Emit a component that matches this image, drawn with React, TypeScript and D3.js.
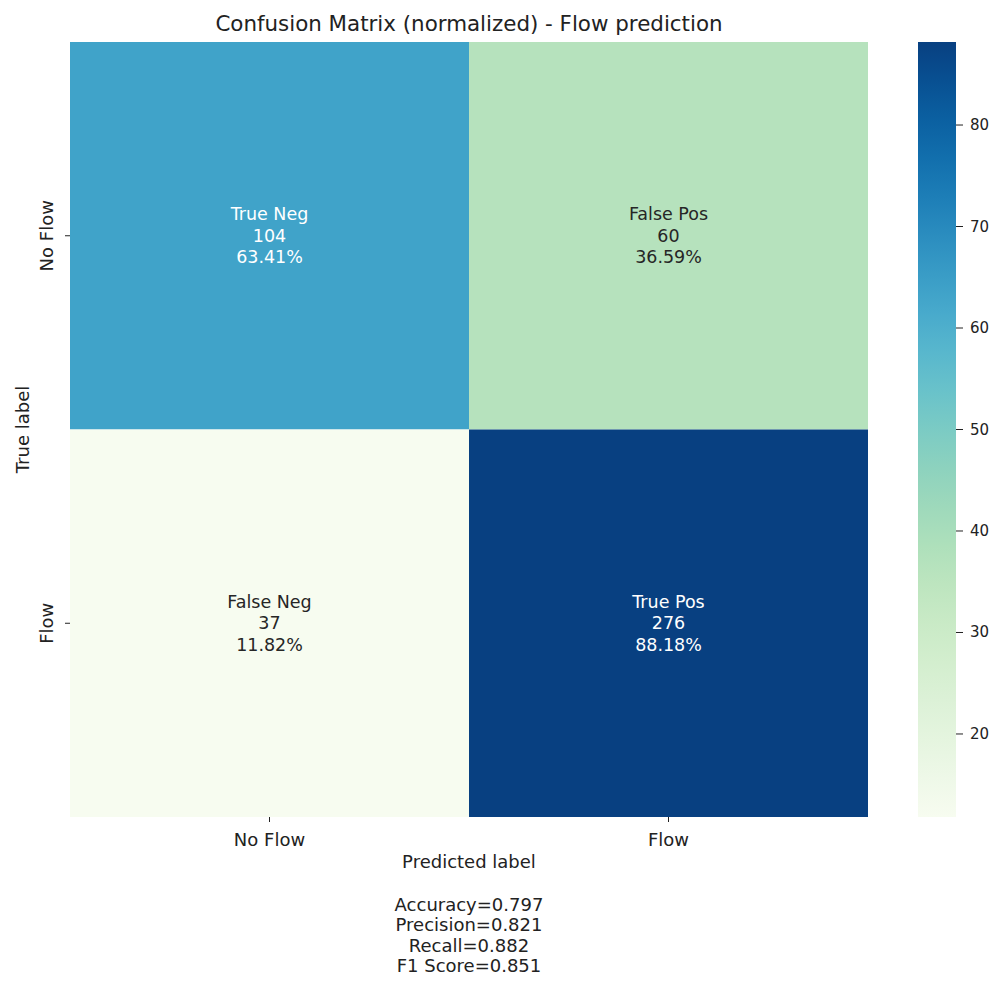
import React from "react";
import * as d3 from "d3";

const rowLabels = ["No Flow", "Flow"];
const colLabels = ["No Flow", "Flow"];
const cellNames = [["True Neg", "False Pos"], ["False Neg", "True Pos"]];
const cellCounts = [[104, 60], [37, 276]];
const cellPercents = [[63.41, 36.59], [11.82, 88.18]];
const colorbarTicks = [20, 30, 40, 50, 60, 70, 80];
const metricLines = ["Accuracy=0.797", "Precision=0.821", "Recall=0.882", "F1 Score=0.851"];
const title = "Confusion Matrix (normalized) - Flow prediction";

const W = 993, H = 981;
const hm = { left: 70, right: 868, top: 42, bottom: 817 };
const cb = { left: 918, right: 956 };
const FONT = "DejaVu Sans, sans-serif";

export default function App() {
  const flat = cellPercents.flat();
  const vmin = d3.min(flat)!, vmax = d3.max(flat)!;
  const color = d3.scaleSequential(d3.interpolateGnBu).domain([vmin, vmax]);
  const x = d3.scaleBand<string>().domain(colLabels).range([hm.left, hm.right]);
  const y = d3.scaleBand<string>().domain(rowLabels).range([hm.top, hm.bottom]);
  const cy = d3.scaleLinear().domain([vmin, vmax]).range([hm.bottom, hm.top]);
  const stops = d3.range(0, 1.0001, 0.05);
  const lum = (c: string) => {
    const rgb = d3.rgb(c);
    const f = (v: number) => { v /= 255; return v <= 0.03928 ? v / 12.92 : Math.pow((v + 0.055) / 1.055, 2.4); };
    return 0.2126 * f(rgb.r) + 0.7152 * f(rgb.g) + 0.0722 * f(rgb.b);
  };
  return (
    <svg width={W} height={H} style={{ display: "block", position: "absolute", left: 0, top: 0, fontFamily: FONT }}>
      <defs>
        <linearGradient id="cbgrad" x1="0" y1="1" x2="0" y2="0">
          {stops.map((t) => (
            <stop key={t} offset={`${t * 100}%`} stopColor={color(vmin + t * (vmax - vmin))} />
          ))}
        </linearGradient>
      </defs>
      <rect x={0} y={0} width={W} height={H} fill="#ffffff" />
      <text x={(hm.left + hm.right) / 2} y={hm.top - 11} textAnchor="middle" fontSize={21.4} fill="#222">{title}</text>
      {rowLabels.map((r, i) =>
        colLabels.map((c, j) => {
          const fill = color(cellPercents[i][j]);
          const tc = lum(fill) < 0.408 ? "#ffffff" : "#262626";
          const cx = x(c)! + x.bandwidth() / 2;
          const cyy = y(r)! + y.bandwidth() / 2;
          return (
            <g key={`${i}-${j}`}>
              <rect x={x(c)!} y={y(r)!} width={x.bandwidth()} height={y.bandwidth()} fill={fill} />
              <text x={cx} y={cyy - 21.5} textAnchor="middle" dominantBaseline="central" fontSize={17.5} fill={tc}>{cellNames[i][j]}</text>
              <text x={cx} y={cyy} textAnchor="middle" dominantBaseline="central" fontSize={17.5} fill={tc}>{cellCounts[i][j]}</text>
              <text x={cx} y={cyy + 21.5} textAnchor="middle" dominantBaseline="central" fontSize={17.5} fill={tc}>{cellPercents[i][j].toFixed(2)}%</text>
            </g>
          );
        })
      )}
      {colLabels.map((c) => {
        const cx = x(c)! + x.bandwidth() / 2;
        return (
          <g key={c}>
            <line x1={cx} x2={cx} y1={hm.bottom} y2={hm.bottom + 5} stroke="#222" />
            <text x={cx} y={hm.bottom + 29} textAnchor="middle" fontSize={18} fill="#222">{c}</text>
          </g>
        );
      })}
      {rowLabels.map((r) => {
        const yy = y(r)! + y.bandwidth() / 2;
        return (
          <g key={r}>
            <line x1={hm.left - 5} x2={hm.left} y1={yy} y2={yy} stroke="#222" />
            <text transform={`translate(${hm.left - 17},${yy}) rotate(-90)`} textAnchor="middle" fontSize={18} fill="#222">{r}</text>
          </g>
        );
      })}
      <text x={(hm.left + hm.right) / 2} y={hm.bottom + 51} textAnchor="middle" fontSize={18} fill="#222">Predicted label</text>
      {metricLines.map((m, k) => (
        <text key={m} x={(hm.left + hm.right) / 2} y={hm.bottom + 94 + k * 20.3} textAnchor="middle" fontSize={18} fill="#222">{m}</text>
      ))}
      <text transform={`translate(29,${(hm.top + hm.bottom) / 2}) rotate(-90)`} textAnchor="middle" fontSize={18} fill="#222">True label</text>
      <rect x={cb.left} y={hm.top} width={cb.right - cb.left} height={hm.bottom - hm.top} fill="url(#cbgrad)" />
      {colorbarTicks.map((t) => (
        <g key={t}>
          <line x1={cb.right} x2={cb.right + 7} y1={cy(t)} y2={cy(t)} stroke="#222" />
          <text x={cb.right + 14} y={cy(t)} dominantBaseline="central" fontSize={15} fill="#222">{t}</text>
        </g>
      ))}
    </svg>
  );
}
